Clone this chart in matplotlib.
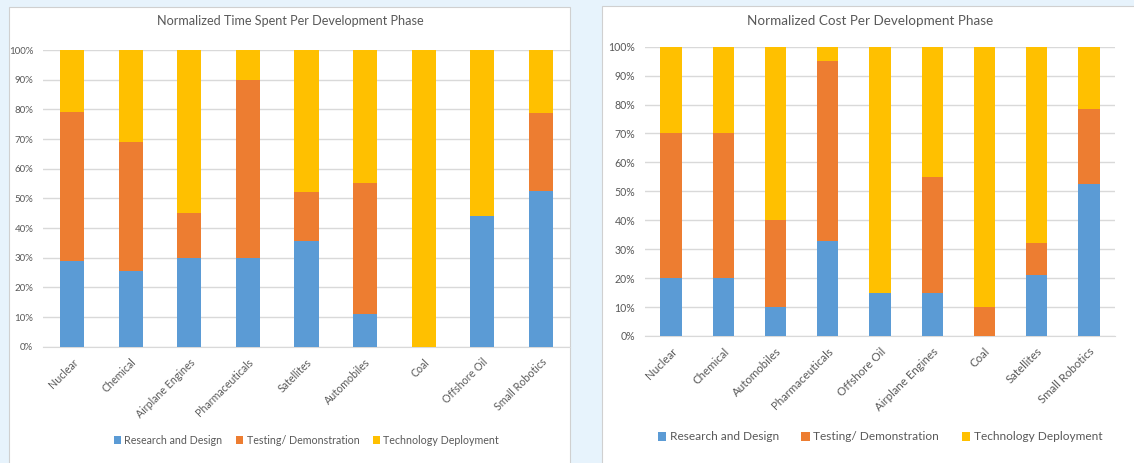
import matplotlib.pyplot as plt
import numpy as np
from matplotlib.patches import Rectangle

plt.rcParams['font.family'] = ['Lato', 'DejaVu Sans']

## ---------------- data ----------------
series = ['Research and Design', 'Testing/ Demonstration', 'Technology Deployment']
colors = ['#5B9BD5', '#ED7D31', '#FFC000']

time_cats = ['Nuclear', 'Chemical', 'Airplane Engines', 'Pharmaceuticals', 'Satellites',
             'Automobiles', 'Coal', 'Offshore Oil', 'Small Robotics']
time_rd = [29, 25.5, 30, 30, 35.5, 11, 0, 44, 52.5]
time_test = [50, 43.5, 15, 60, 16.5, 44.3, 0, 0, 26.3]
time_deploy = [21, 31, 55, 10, 48, 44.7, 100, 56, 21.2]

cost_cats = ['Nuclear', 'Chemical', 'Automobiles', 'Pharmaceuticals', 'Offshore Oil',
             'Airplane Engines', 'Coal', 'Satellites', 'Small Robotics']
cost_rd = [20, 20, 10, 33, 15, 15, 0, 21, 52.5]
cost_test = [50, 50, 30, 62, 0, 40, 10, 11, 26]
cost_deploy = [30, 30, 60, 5, 85, 45, 90, 68, 21.5]

W, H = 1134, 463
fig = plt.figure(figsize=(W / 100, H / 100), dpi=100)
fig.patch.set_facecolor('#E7F3FC')

## white chart panels (pixel boxes -> figure fraction)
def panel(x0, y0, x1, y1):
    r = Rectangle((x0 / W, 1 - y1 / H), (x1 - x0) / W, (y1 - y0) / H,
                  transform=fig.transFigure, facecolor='white',
                  edgecolor='#D0D0D0', linewidth=0.8, zorder=0)
    fig.add_artist(r)

panel(9, 7, 570, 470)
panel(601.5, 6, 1140, 470)

grey = '#595959'

def draw(box, cats, vals, title, title_x, fs, title_fs, leg_fs, colspace, legend_y):
    ax = fig.add_axes(box)
    x = np.arange(len(cats))
    bottom = np.zeros(len(cats))
    for name, v, c in zip(series, vals, colors):
        v = np.array(v) / 100
        ax.bar(x, v, 0.41, bottom=bottom, color=c, label=name, zorder=3)
        bottom += v
    ax.set_xlim(-0.5, len(cats) - 0.5)
    ax.set_ylim(0, 1)
    ax.set_yticks(np.arange(0, 1.01, 0.1))
    ax.set_yticklabels(['%d%%' % round(t * 100) for t in np.arange(0, 1.01, 0.1)],
                       fontsize=fs, color=grey)
    ax.set_xticks(x)
    ax.set_xticklabels(cats, rotation=45, ha='right', va='top',
                       rotation_mode='anchor', fontsize=fs + 0.7, color=grey)
    ax.tick_params(length=0, axis='y', pad=7)
    ax.tick_params(length=0, axis='x', pad=7)
    ax.grid(axis='y', color='#D9D9D9', linewidth=1, zorder=0)
    for s in ['top', 'right', 'left']:
        ax.spines[s].set_visible(False)
    ax.spines['bottom'].set_color('#D9D9D9')
    ax.patch.set_alpha(0)
    fig.text(title_x / W, 1 - 21 / H, title, ha='center', va='center',
             fontsize=title_fs, color=grey)
    leg = ax.legend(loc='center', bbox_to_anchor=(0.5, legend_y), ncol=3,
                    frameon=False, fontsize=leg_fs, handlelength=0.7,
                    handleheight=0.7, handletextpad=0.3, columnspacing=colspace)
    for t in leg.get_texts():
        t.set_color(grey)
    return ax

## --------------- left chart: time ---------------
draw([43 / W, 1 - 346.7 / H, 527 / W, 296.7 / H], time_cats,
     [time_rd, time_test, time_deploy],
     'Normalized Time Spent Per Development Phase', 290, 7, 9.1, 7.7, 1.25,
     (1 - (440 - 50) / 296.7))

## --------------- right chart: cost ---------------
draw([645 / W, 1 - 336 / H, 470 / W, 289.3 / H], cost_cats,
     [cost_rd, cost_test, cost_deploy],
     'Normalized Cost Per Development Phase', 870, 7.6, 9.7, 8.6, 1.9,
     (1 - (437 - 46.7) / 289.3))

plt.savefig('out.png', dpi=100)
